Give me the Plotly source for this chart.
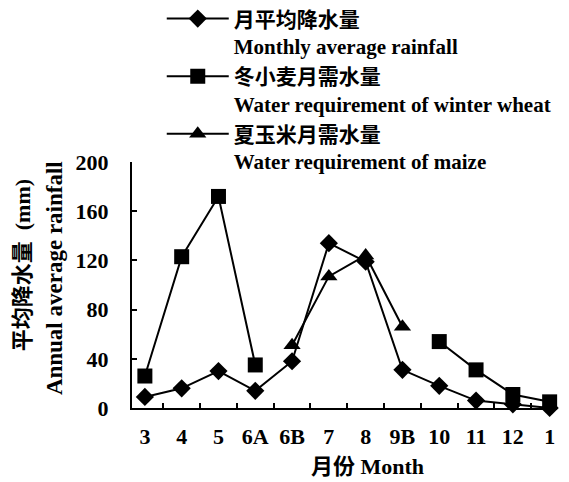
import plotly.graph_objects as go

months = ["3", "4", "5", "6A", "6B", "7", "8", "9B", "10", "11", "12", "1"]
rainfall = [9, 16, 30, 14, 38, 134, 119, 31, 18, 6, 3, 0]
wheat = [26, 123, 172, 35, None, None, None, None, 54, 31, 11, 5]
maize = [None, None, None, None, 51, 107, 124, 66, None, None, None, None]

name_rain = "月平均降水量<br>Monthly average rainfall"
name_wheat = "冬小麦月需水量<br>Water requirement of winter wheat"
name_maize = "夏玉米月需水量<br>Water requirement of maize"

FONT = "Liberation Serif, Noto Sans CJK SC, serif"

fig = go.Figure()
fig.add_trace(go.Scatter(x=months, y=rainfall, name=name_rain, mode="lines+markers",
                         line=dict(color="black", width=2),
                         marker=dict(symbol="diamond", size=14, color="black"),
                         cliponaxis=False))
fig.add_trace(go.Scatter(x=months, y=wheat, name=name_wheat, mode="lines+markers",
                         line=dict(color="black", width=2),
                         marker=dict(symbol="square", size=15, color="black"),
                         connectgaps=False, cliponaxis=False))
fig.add_trace(go.Scatter(x=months, y=maize, name=name_maize, mode="lines+markers",
                         line=dict(color="black", width=2),
                         marker=dict(symbol="triangle-up", size=15, color="black"),
                         connectgaps=False, cliponaxis=False))

fig.update_layout(
    width=561, height=474,
    margin=dict(l=124, r=12, t=154, b=74, autoexpand=False),
    paper_bgcolor="white", plot_bgcolor="white",
    font=dict(family=FONT, size=22, color="black", weight="bold"),
    showlegend=True,
    legend=dict(x=0.07, y=1.665, xanchor="left", yanchor="top", valign="top",
                font=dict(family=FONT, size=21, color="black", weight="bold"),
                bgcolor="rgba(0,0,0,0)", tracegroupgap=0, itemwidth=62),
    xaxis=dict(type="category", range=[-0.35, 11.2], showline=True, linecolor="black", linewidth=2,
               ticks="inside", tickson="boundaries", ticklen=5, tickcolor="black", tickwidth=1.5,
               showgrid=False, zeroline=False, tickfont=dict(size=22), ticklabelstandoff=8),
    yaxis=dict(range=[0, 200], tickvals=[0, 40, 80, 120, 160, 200], showline=True, linecolor="black",
               linewidth=2, ticks="inside", ticklen=5, tickcolor="black", tickwidth=1.5,
               showgrid=False, zeroline=False, tickfont=dict(size=22), ticklabelstandoff=17),
    annotations=[
        dict(text="月份 Month", xref="paper", yref="paper", x=0.553, y=-0.236,
             showarrow=False, xanchor="center", yanchor="middle", font=dict(size=22)),
        dict(text="平均降水量  (mm)", xref="paper", yref="paper", x=-0.259, y=0.58,
             showarrow=False, textangle=-90, xanchor="center", yanchor="middle", font=dict(size=22)),
        dict(text="Annual average rainfall", xref="paper", yref="paper", x=-0.1835, y=0.528,
             showarrow=False, textangle=-90, xanchor="center", yanchor="middle", font=dict(size=23)),
    ],
)

fig.write_html("out.html")
